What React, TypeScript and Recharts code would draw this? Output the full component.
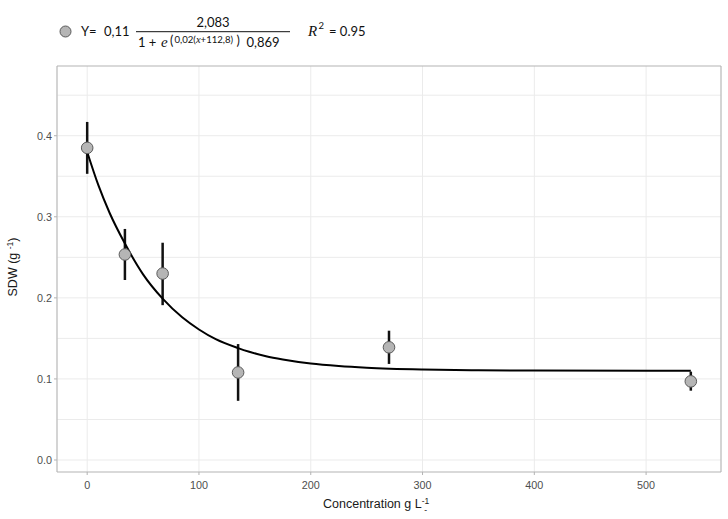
import React from 'react';
import {
  ComposedChart,
  Line,
  Scatter,
  ErrorBar,
  XAxis,
  YAxis,
  CartesianGrid,
  ReferenceArea,
  Legend,
  Label,
} from 'recharts';

// Observed means (SDW) with error bars
const concentration = [0, 33.75, 67.5, 135, 270, 540];
const sdwMean = [0.385, 0.2535, 0.23, 0.108, 0.139, 0.097];
const sdwErrLow = [0.032, 0.0315, 0.039, 0.035, 0.0205, 0.0115];
const sdwErrHigh = [0.032, 0.0315, 0.038, 0.035, 0.0205, 0.012];

// Fitted curve
const fitConcentration = [0, 10, 20, 33.75, 50, 67.5, 85, 100, 115, 135, 145, 160, 175, 200, 225, 250, 300, 350, 400, 540];
const fitSdw = [0.38, 0.339, 0.305, 0.267, 0.229, 0.199, 0.176, 0.161, 0.149, 0.138, 0.1335, 0.128, 0.124, 0.119, 0.1159, 0.1138, 0.1116, 0.1107, 0.1103, 0.11];

const xTicks = [0, 100, 200, 300, 400, 500];
const yTicks = [0, 0.1, 0.2, 0.3, 0.4];
const yMinorGrid = [0.05, 0.15, 0.25, 0.35, 0.45];
const xDomain: [number, number] = [-27, 567];
const yDomain: [number, number] = [-0.0148, 0.486];

const points = concentration.map((x, i) => ({
  x,
  y: sdwMean[i],
  err: [sdwErrLow[i], sdwErrHigh[i]],
}));
const fit = fitConcentration.map((x, i) => ({ x, y: fitSdw[i] }));

const SANS = "'Liberation Sans', Arial, sans-serif";
const EQ = "Lato, 'Liberation Sans', sans-serif";
const MATH = "'Liberation Serif', 'DejaVu Serif', serif";

const PointShape = (props: any) => {
  const { cx, cy } = props;
  if (cx == null || cy == null) return null;
  return <circle cx={cx} cy={cy} r={5.8} fill="#b5b5b5" stroke="#5a5a5a" strokeWidth={1} />;
};

const EquationLegend = () => (
  <svg width={728} height={60} style={{ display: 'block' }}>
    <circle cx={65.5} cy={31.5} r={5.5} fill="#b5b5b5" stroke="#5a5a5a" strokeWidth={1} />
    <text x={81} y={35.5} fontFamily={EQ} fontSize={13} fill="#111">Y=</text>
    <text x={104} y={35.5} fontFamily={EQ} fontSize={13} fill="#111">0,11</text>
    <text x={213} y={26.5} textAnchor="middle" fontFamily={EQ} fontSize={13} fill="#111">2,083</text>
    <line x1={136} y1={31.7} x2={290} y2={31.7} stroke="#111" strokeWidth={1} />
    <text x={138} y={47.3} fontFamily={EQ} fontSize={13} fill="#111">1 +</text>
    <text x={161} y={47.3} fontFamily={MATH} fontStyle="italic" fontSize={15} fill="#111">e</text>
    <text x={170} y={45} fontFamily={EQ} fontSize={12.5} fill="#111">(</text>
    <text x={174.5} y={42.5} fontFamily={EQ} fontSize={9.6} fill="#111">
      0,02(<tspan fontFamily={MATH} fontStyle="italic" fontSize={10.5}>x</tspan>+112,8)
    </text>
    <text x={236.5} y={45} fontFamily={EQ} fontSize={12.5} fill="#111">)</text>
    <text x={246.5} y={47.3} fontFamily={EQ} fontSize={13} fill="#111">0,869</text>
    <text x={308} y={35.5} fontFamily={MATH} fontStyle="italic" fontSize={15} fill="#111">R</text>
    <text x={318.5} y={29} fontFamily={EQ} fontSize={9.5} fill="#111">2</text>
    <text x={329} y={35.5} fontFamily={EQ} fontSize={13} fill="#111">= 0.95</text>
  </svg>
);

const YTitle = () => (
  <text
    transform="translate(17,267) rotate(-90)"
    textAnchor="middle"
    fontFamily={SANS}
    fontSize={12.5}
    fill="#1a1a1a"
  >
    SDW (g <tspan dy={-4.5} fontSize={8.5}>-1</tspan>
    <tspan dy={4.5}>)</tspan>
  </text>
);

const XTitle = () => (
  <text x={323} y={508} fontFamily={SANS} fontSize={12.5} fill="#1a1a1a">
    Concentration g L<tspan dy={-4.5} fontSize={8.5}>-1</tspan>
    <tspan dx={-5} dy={9} fontSize={8.5}>-</tspan>
  </text>
);

const horizontalGen = (p: any) => {
  const vals = [...yTicks, ...yMinorGrid];
  const s = p?.yAxis?.scale;
  if (typeof s === 'function') return vals.map((v) => s(v));
  const off = p?.offset ?? { top: 66, height: 406 };
  return vals.map((v) => off.top + (off.height * (yDomain[1] - v)) / (yDomain[1] - yDomain[0]));
};

export default function App() {
  return (
    <div style={{ position: 'absolute', left: 0, top: 0, width: 728, height: 519, background: '#fff' }}>
      <ComposedChart
        width={728}
        height={519}
        margin={{ top: 66, right: 7, bottom: 0, left: 0 }}
        style={{ background: '#fff' }}
      >
        <CartesianGrid
          stroke="#ebebeb"
          strokeWidth={1}
          fill="none"
          horizontalCoordinatesGenerator={horizontalGen}
        />
        <XAxis
          dataKey="x"
          type="number"
          domain={xDomain}
          ticks={xTicks}
          interval={0}
          allowDataOverflow
          height={47}
          axisLine={false}
          tickSize={3}
          tickMargin={6}
          tickLine={{ stroke: '#b3b3b3' }}
          tick={{ fill: '#4d4d4d', fontSize: 10.8, fontFamily: SANS }}
        >
          <Label content={<XTitle />} />
        </XAxis>
        <YAxis
          type="number"
          domain={yDomain}
          ticks={yTicks}
          interval={0}
          allowDataOverflow
          width={57}
          axisLine={false}
          tickSize={3}
          tickMargin={2}
          tickLine={{ stroke: '#b3b3b3' }}
          tickFormatter={(v: number) => v.toFixed(1)}
          tick={{ fill: '#4d4d4d', fontSize: 10.8, fontFamily: SANS }}
        >
          <Label content={<YTitle />} />
        </YAxis>
        <ReferenceArea
          x1={xDomain[0]}
          x2={xDomain[1]}
          y1={yDomain[0]}
          y2={yDomain[1]}
          fill="none"
          fillOpacity={0}
          stroke="#b3b3b3"
          strokeWidth={1}
          ifOverflow="visible"
        />
        <Scatter data={points} dataKey="y" shape={<PointShape />} isAnimationActive={false} legendType="circle">
          <ErrorBar dataKey="err" direction="y" width={0} stroke="#111" strokeWidth={2.5} />
        </Scatter>
        <Line
          data={fit}
          dataKey="y"
          type="monotone"
          stroke="#000"
          strokeWidth={2}
          dot={false}
          activeDot={false}
          isAnimationActive={false}
          legendType="none"
        />
        <Legend
          verticalAlign="middle"
          content={<EquationLegend />}
          wrapperStyle={{ position: 'absolute', top: 0, left: 0, width: 728, height: 60 }}
        />
      </ComposedChart>
    </div>
  );
}
